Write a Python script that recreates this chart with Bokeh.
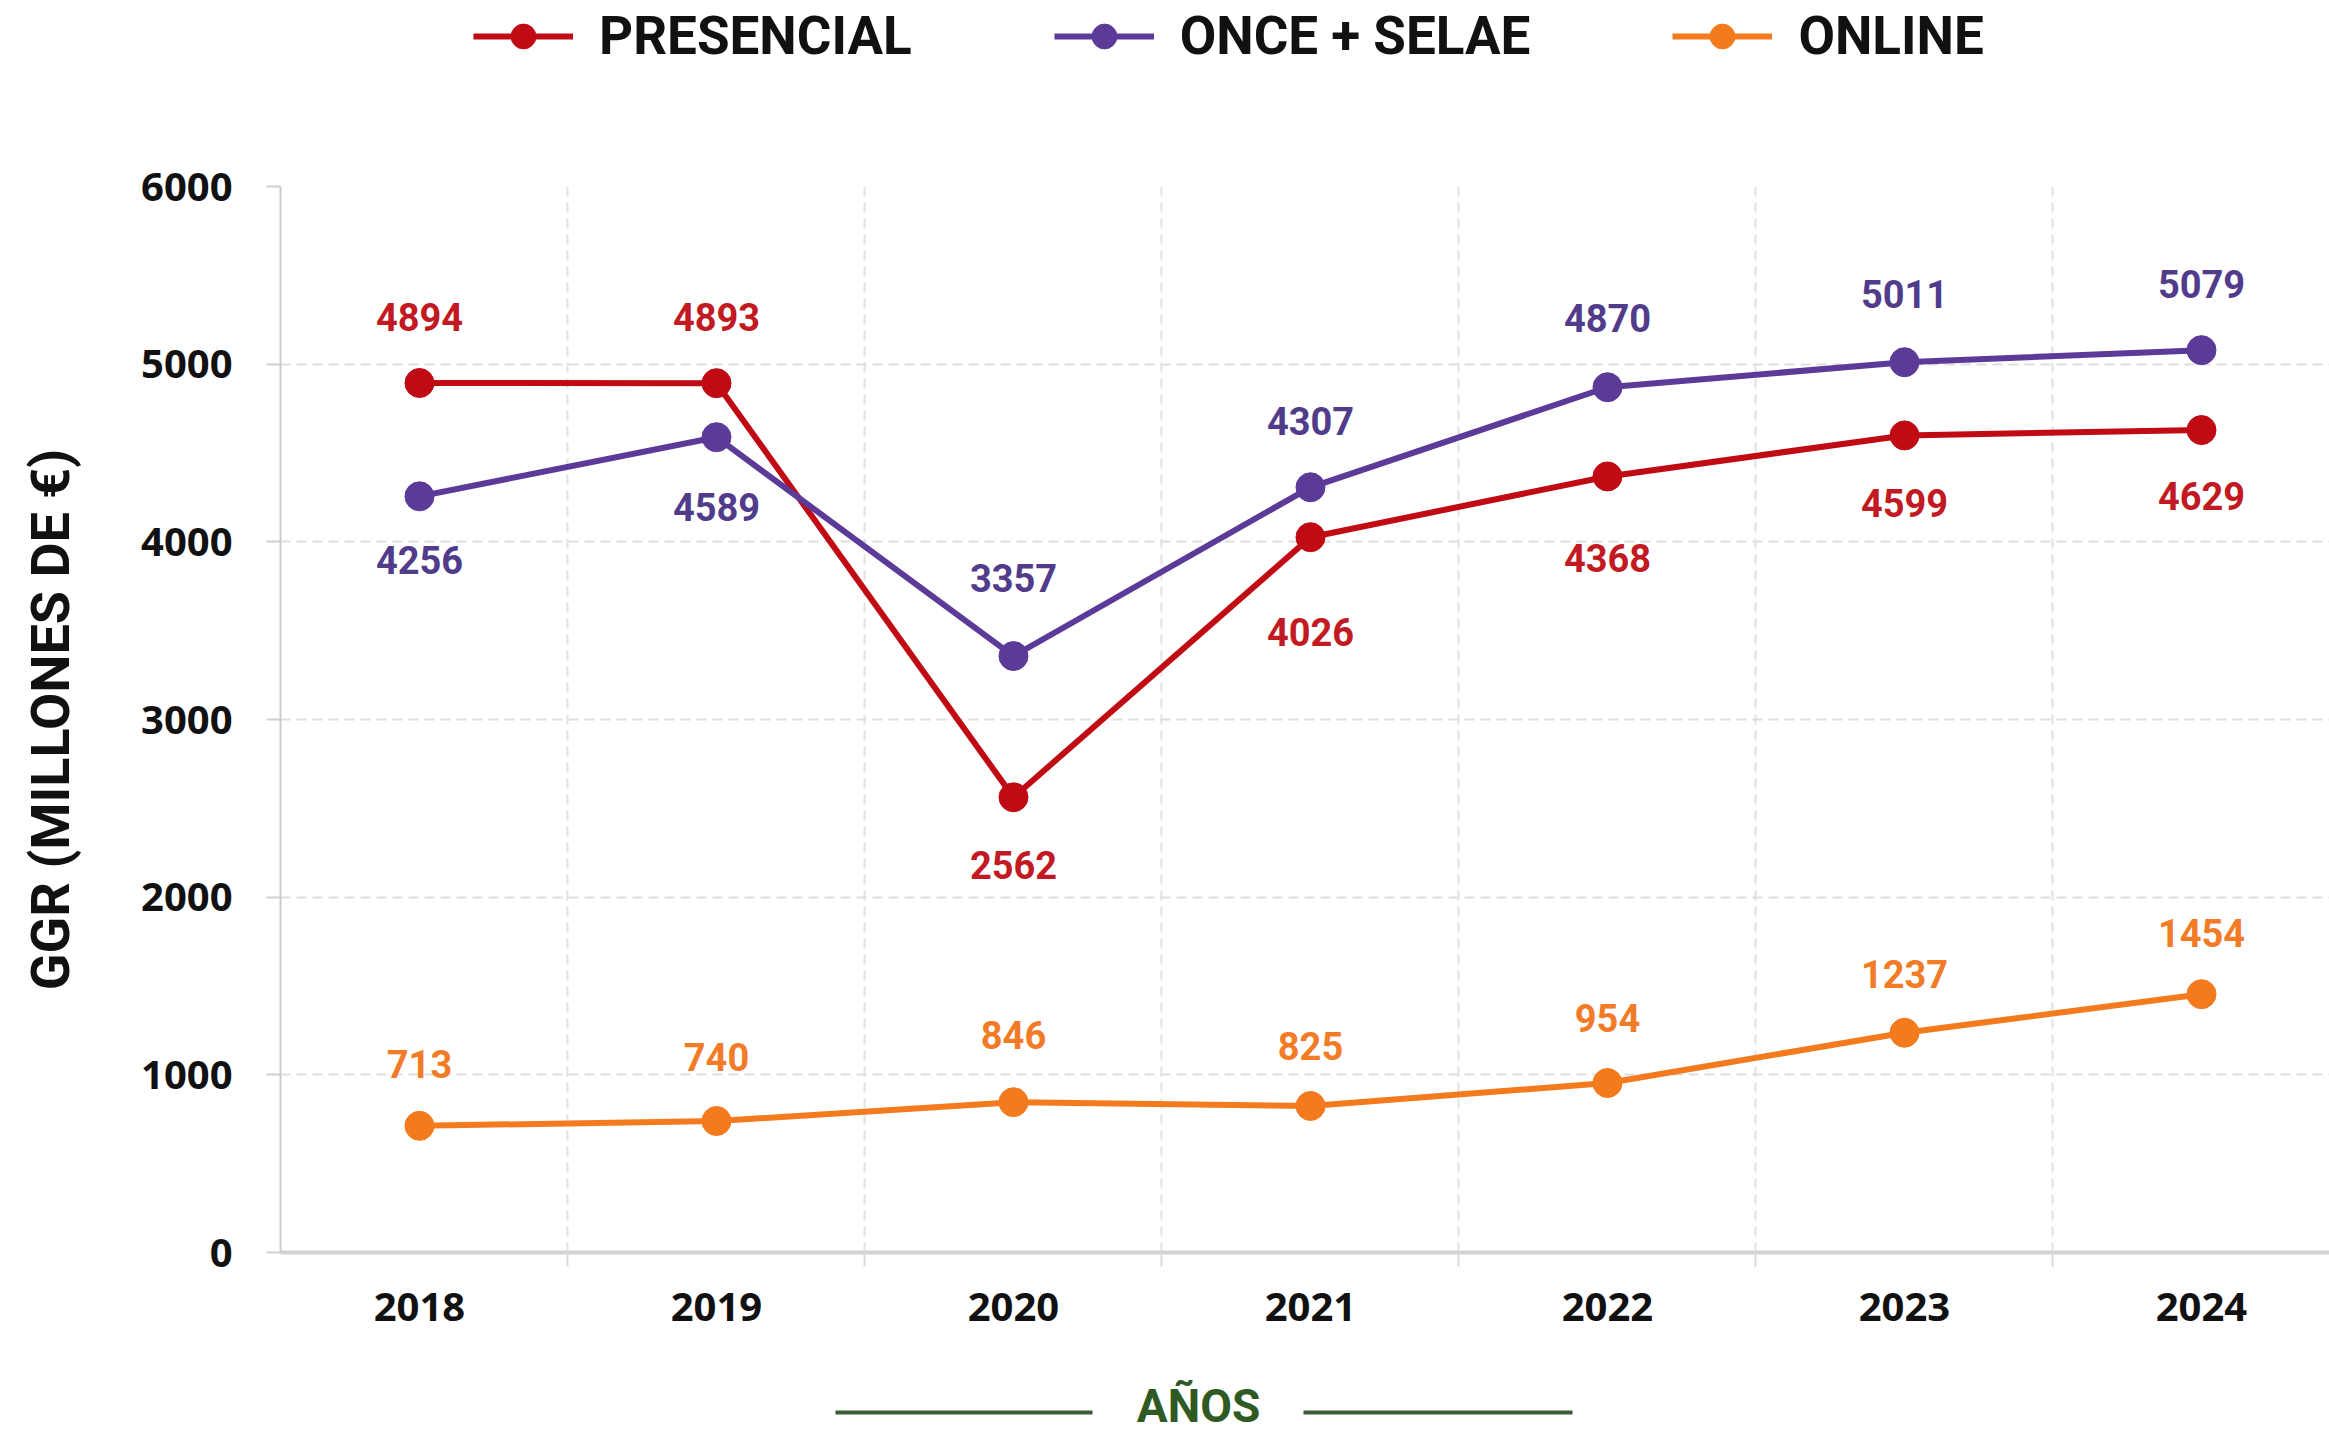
from bokeh.plotting import figure
from bokeh.models import ColumnDataSource, Range1d, FixedTicker, Legend, LegendItem
from bokeh.layouts import column
from bokeh.core.properties import value
from bokeh.embed import file_html
from bokeh.resources import INLINE

# ---------------- data ----------------
years = ["2018", "2019", "2020", "2021", "2022", "2023", "2024"]
presencial = [4894, 4893, 2562, 4026, 4368, 4599, 4629]
once_selae = [4256, 4589, 3357, 4307, 4870, 5011, 5079]
online = [713, 740, 846, 825, 954, 1237, 1454]
series_names = ["PRESENCIAL", "ONCE + SELAE", "ONLINE"]
y_ticks = [0, 1000, 2000, 3000, 4000, 5000, 6000]
y_title = "GGR (MILLONES DE €)"
x_title = "AÑOS"

# ---------------- styles ----------------
colors = ["#C00A14", "#5B3A98", "#F47A1E"]
label_colors = ["#C21A22", "#513C8C", "#F27B28"]
# vertical label offsets in screen px (positive = below the point)
label_dy = [
    [-66, -66, 68, 95, 82, 68, 66],
    [64, 70, -78, -66, -69, -68, -66],
    [-62, -64, -67, -60, -65, -59, -61],
]

xs = list(range(len(years)))
W = 2329
LEFT = 280
H_HEAD = 100
H_FOOT = 64
FRAME_TOP = 186
FRAME_BOTTOM = 1252
H_MAIN = 1434 - H_HEAD - H_FOOT

# ---------------- main chart ----------------
p = figure(width=W, height=H_MAIN,
           x_range=Range1d(-0.468, 6.431), y_range=Range1d(0, 6000),
           output_backend="svg", toolbar_location=None,
           min_border_left=LEFT, min_border_right=0,
           min_border_top=FRAME_TOP - H_HEAD,
           min_border_bottom=H_HEAD + H_MAIN - FRAME_BOTTOM)
p.outline_line_color = None
p.background_fill_color = "white"
p.border_fill_color = "white"

p.xaxis.ticker = FixedTicker(ticks=xs, minor_ticks=[i + 0.5 for i in xs[:-1]])
p.xaxis.major_label_overrides = {i: y for i, y in zip(xs, years)}
p.xaxis.major_tick_out = 0
p.xaxis.major_tick_in = 0
p.xaxis.minor_tick_out = 14
p.xaxis.minor_tick_in = 0
p.xaxis.minor_tick_line_color = "#dadada"
p.xaxis.minor_tick_line_width = 2
p.xaxis.axis_line_color = "#d2d2d2"
p.xaxis.axis_line_width = 4
p.xaxis.major_label_text_font = "Open Sans"
p.xaxis.major_label_text_font_style = "bold"
p.xaxis.major_label_text_font_size = "40px"
p.xaxis.major_label_text_color = "#111111"
p.xaxis.major_label_standoff = 26

p.yaxis.ticker = FixedTicker(ticks=y_ticks)
p.yaxis.minor_tick_line_color = None
p.yaxis.major_tick_out = 14
p.yaxis.major_tick_in = 0
p.yaxis.major_tick_line_color = "#d0d0d0"
p.yaxis.major_tick_line_width = 2
p.yaxis.axis_line_color = "#cccccc"
p.yaxis.axis_line_width = 2
p.yaxis.major_label_text_font = "Open Sans"
p.yaxis.major_label_text_font_style = "bold"
p.yaxis.major_label_text_font_size = "40px"
p.yaxis.major_label_text_color = "#111111"
p.yaxis.major_label_standoff = 34
p.yaxis.axis_label = y_title
p.yaxis.axis_label_text_font = "Roboto"
p.yaxis.axis_label_text_font_style = "bold"
p.yaxis.axis_label_text_font_size = "54px"
p.yaxis.axis_label_text_color = "#111111"
p.yaxis.axis_label_standoff = 56

p.xgrid.ticker = FixedTicker(ticks=[i + 0.5 for i in xs[:-1]])
p.xgrid.grid_line_color = "#e2e2e2"
p.xgrid.grid_line_width = 2
p.xgrid.grid_line_dash = "10 6"
p.ygrid.ticker = FixedTicker(ticks=y_ticks[1:])
p.ygrid.grid_line_color = "#dedede"
p.ygrid.grid_line_width = 2
p.ygrid.grid_line_dash = "10 6"

all_series = [presencial, once_selae, online]
for vals, col, lcol, dys in zip(all_series, colors, label_colors, label_dy):
    src = ColumnDataSource(dict(x=xs, y=vals, lab=[str(v) for v in vals], dy=dys))
    p.line("x", "y", source=src, line_color=col, line_width=6)
    p.scatter("x", "y", source=src, size=29, fill_color=col, line_color=col)
    p.text("x", "y", text="lab", source=src, y_offset="dy",
           text_align="center", text_baseline="middle",
           text_font=value("Roboto"), text_font_style="bold",
           text_font_size="38px", text_color=lcol)

# ---------------- header: legend ----------------
# the legend's proxy renderers hold the same series; they fall outside this
# strip's ranges, so only their legend glyphs are visible
h = figure(width=W, height=H_HEAD, x_range=Range1d(LEFT, W), y_range=Range1d(0, H_HEAD),
           x_axis_type=None, y_axis_type=None,
           output_backend="svg", toolbar_location=None,
           min_border_left=LEFT, min_border_right=0, min_border_top=0, min_border_bottom=0)
h.outline_line_color = None
h.grid.visible = False
items = []
for name, vals, col in zip(series_names, all_series, colors):
    src = ColumnDataSource(dict(x=xs, y=vals))
    lr = h.line("x", "y", source=src, line_color=col, line_width=6)
    sr = h.scatter("x", "y", source=src, size=29, fill_color=col, line_color=col)
    items.append(LegendItem(label=name, renderers=[lr, sr]))
legend = Legend(items=items, orientation="horizontal",
                location=(193, H_HEAD - 67),
                glyph_width=100, glyph_height=62, label_height=62,
                label_standoff=26, spacing=142, padding=0, margin=0,
                border_line_color=None, background_fill_alpha=0,
                label_text_font="Roboto", label_text_font_style="bold",
                label_text_font_size="53px", label_text_color="#111111")
h.add_layout(legend, "center")

# ---------------- footer: x-axis title with rules ----------------
f = figure(width=W, height=H_FOOT, x_range=Range1d(LEFT, W), y_range=Range1d(0, H_FOOT),
           x_axis_type=None, y_axis_type=None,
           output_backend="svg", toolbar_location=None,
           min_border_left=LEFT, min_border_right=0, min_border_top=0, min_border_bottom=0)
f.outline_line_color = None
f.grid.visible = False
f.segment(x0=[835, 1303], y0=[22, 22], x1=[1092, 1572], y1=[22, 22],
          line_color="#3E5C36", line_width=4)
f.text(x=[1198], y=[29], text=[x_title], text_align="center", text_baseline="middle",
       text_font=value("Roboto"), text_font_style="bold",
       text_font_size="46px", text_color="#2F5A24")

layout = column(h, p, f, spacing=0)
open("out.html", "w").write(file_html(layout, INLINE))
